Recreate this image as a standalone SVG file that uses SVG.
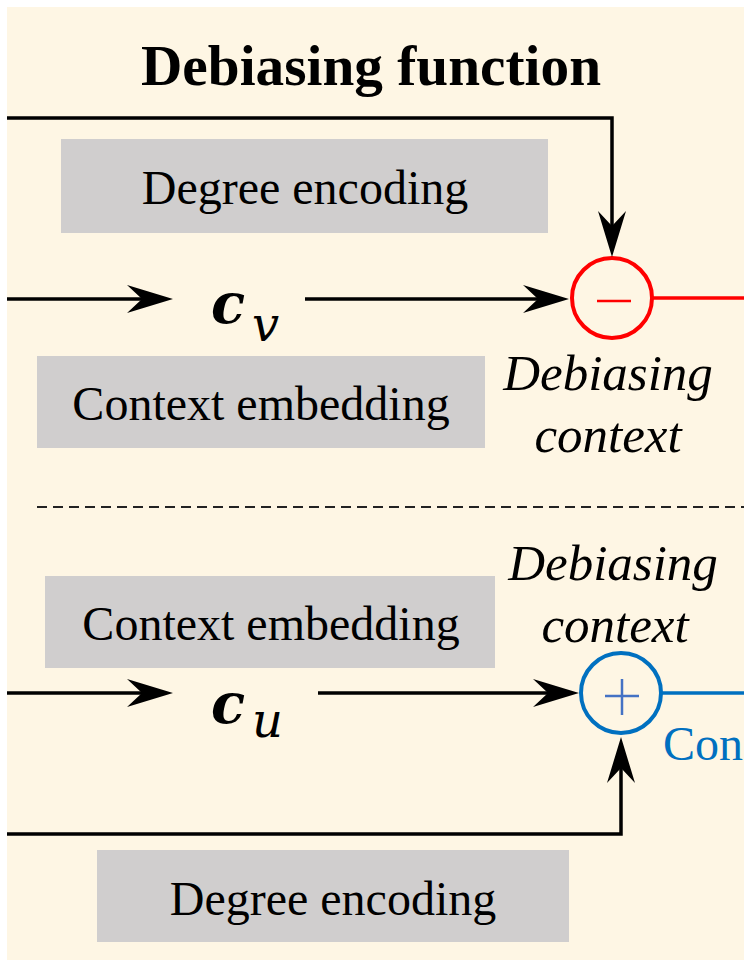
<svg xmlns="http://www.w3.org/2000/svg" width="744" height="960" viewBox="0 0 744 960">
<defs>
<style>
.box{fill:#d0cece}
.ser{font-family:Liberation Serif,Tinos,Times New Roman,Times,Noto Serif,DejaVu Serif,FreeSerif,serif}
.lbl{font-size:48px;fill:#000;text-anchor:middle}
.it{font-size:51px;font-style:italic;fill:#000;text-anchor:middle}
.conn{fill:none;stroke:#000;stroke-width:3.5}
.math{font-family:DejaVu Serif,Noto Serif,Liberation Serif,serif;fill:#000}
</style>
<marker id="ah" markerUnits="userSpaceOnUse" viewBox="-16 -15 48 30" refX="0" refY="0" markerWidth="48" markerHeight="30" orient="auto" overflow="visible">
<path d="M31,0 L-15,-14 L0,0 L-15,14 Z" fill="#000"/>
</marker>
</defs>
<rect x="0" y="0" width="744" height="960" fill="#ffffff"/>
<rect x="7" y="7" width="737" height="953" fill="#fef6e4"/>
<text class="ser" x="371" y="85" font-size="57" font-weight="bold" text-anchor="middle" textLength="460" lengthAdjust="spacingAndGlyphs">Debiasing function</text>

<g id="degree-top"><rect class="box" x="61" y="139" width="487" height="94"/><text class="ser lbl" x="305" y="204">Degree encoding</text></g>
<g id="context-top"><rect class="box" x="37" y="356" width="448" height="92"/><text class="ser lbl" x="261" y="420">Context embedding</text></g>
<g id="context-bottom"><rect class="box" x="45" y="576" width="450" height="92"/><text class="ser lbl" x="271" y="640">Context embedding</text></g>
<g id="degree-bottom"><rect class="box" x="97" y="850" width="472" height="92"/><text class="ser lbl" x="333" y="915">Degree encoding</text></g>

<g id="cv"><text class="math" x="211" y="323" font-size="56" font-weight="bold" font-style="italic">c</text><text class="math" x="252" y="341" font-size="48" font-style="italic">v</text></g>
<g id="cu"><text class="math" x="211" y="723" font-size="56" font-weight="bold" font-style="italic">c</text><text class="math" x="252" y="737" font-size="48" font-style="italic">u</text></g>

<g id="minus-op">
<circle cx="612" cy="298" r="40" fill="none" stroke="#ff0000" stroke-width="4"/>
<line x1="597" y1="301" x2="631" y2="301" stroke="#ff0000" stroke-width="2.5"/>
<text class="ser it" x="608" y="390">Debiasing</text>
<text class="ser it" x="608" y="452">context</text>
</g>
<g id="plus-op">
<circle cx="621" cy="693" r="40" fill="none" stroke="#0070c0" stroke-width="4"/>
<line x1="605" y1="696" x2="639" y2="696" stroke="#4472c4" stroke-width="2.5"/>
<line x1="622" y1="679" x2="622" y2="715" stroke="#4472c4" stroke-width="2.5"/>
<text class="ser it" x="613" y="580">Debiasing</text>
<text class="ser it" x="615" y="642">context</text>
<text class="ser" x="663" y="760" font-size="48" fill="#0070c0">Con</text>
</g>

<g id="connectors">
<path class="conn" d="M7,118 H612 V226" marker-end="url(#ah)"/>
<line class="conn" x1="7" y1="299" x2="142" y2="299" marker-end="url(#ah)"/>
<line class="conn" x1="305" y1="299" x2="538" y2="299" marker-end="url(#ah)"/>
<line x1="652" y1="298" x2="744" y2="298" stroke="#ff0000" stroke-width="3.5"/>
<line x1="37" y1="507" x2="744" y2="507" stroke="#222" stroke-width="2" stroke-dasharray="10 6"/>
<line class="conn" x1="7" y1="693" x2="142" y2="693" marker-end="url(#ah)"/>
<line class="conn" x1="318" y1="693" x2="548" y2="693" marker-end="url(#ah)"/>
<line x1="661" y1="693" x2="744" y2="693" stroke="#0070c0" stroke-width="3.5"/>
<path class="conn" d="M7,834 H621 V768" marker-end="url(#ah)"/>
</g>
</svg>
